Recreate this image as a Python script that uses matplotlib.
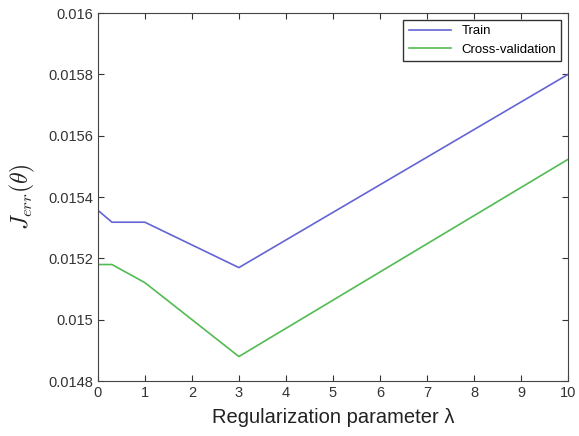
import matplotlib
matplotlib.use("Agg")
import matplotlib.pyplot as plt

lambdas = [0, 0.3, 1, 3, 10]
train_err = [0.015357, 0.015318, 0.015318, 0.015170, 0.015800]
cv_err = [0.015180, 0.015180, 0.015121, 0.014880, 0.015523]
yticks = [0.0148, 0.015, 0.0152, 0.0154, 0.0156, 0.0158, 0.016]
ytick_labels = ["0.0148", "0.015", "0.0152", "0.0154", "0.0156", "0.0158", "0.016"]
xticks = list(range(0, 11))

plt.rcParams['font.family'] = ['Liberation Sans', 'DejaVu Sans']
plt.rcParams['mathtext.fontset'] = 'cm'

fig = plt.figure(figsize=(5.79, 4.36), dpi=100)
ax = fig.add_axes([0.169, 0.126, 0.812, 0.844])
ax.plot(lambdas, train_err, color='#6464d4', lw=1.2, label='Train')
ax.plot(lambdas, cv_err, color='#52bb52', lw=1.2, label='Cross-validation')
ax.set_xlim(0, 10)
ax.set_ylim(0.0148, 0.016)
ax.set_xticks(xticks)
ax.set_yticks(yticks)
ax.set_yticklabels(ytick_labels)
ax.tick_params(direction='in', top=True, right=True, labelsize=10.5, colors='#333333', length=4)
for s in ax.spines.values():
    s.set_color('#444444')
ax.set_xlabel('Regularization parameter λ', fontsize=14.5, color='#222222', labelpad=6)
ax.set_ylabel(r'$J_{err}(\theta)$', fontsize=17, color='#222222', labelpad=8)
leg = ax.legend(loc='upper right', fontsize=9.5, fancybox=False, edgecolor='#333333',
                framealpha=1, handlelength=3.2, borderaxespad=0.5)
leg.get_frame().set_linewidth(1.0)
fig.savefig('out.png', dpi=100)
